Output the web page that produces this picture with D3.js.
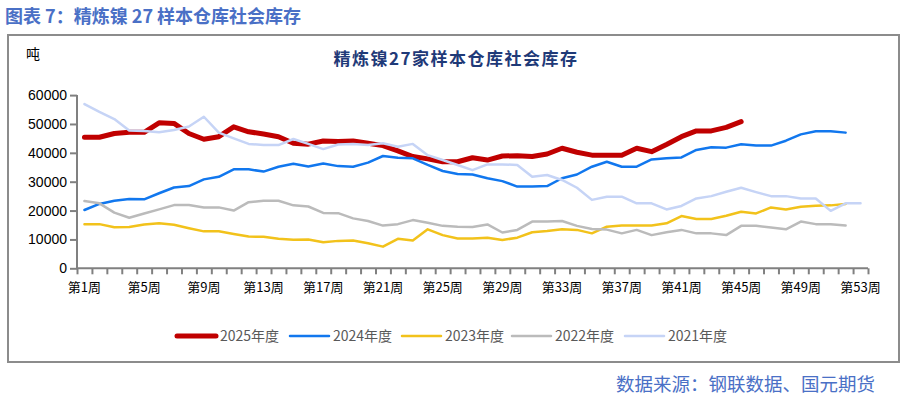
<!DOCTYPE html>
<html>
<head>
<meta charset="utf-8">
<script src="https://cdn.jsdelivr.net/npm/d3@7"></script>
<style>
  body { margin: 0; background: #fff; }
  svg { display: block; font-family: "Noto Sans CJK SC", "Noto Sans", sans-serif; }
</style>
</head>
<body>
<svg id="chart" width="909" height="396"></svg>
<script>
// weekly categories
const weeks = d3.range(1, 54).map(i => "第" + i + "周");
const labelWeeks = d3.range(1, 54, 4).map(i => "第" + i + "周");
const yTicks = [0, 10000, 20000, 30000, 40000, 50000, 60000];

// series values (tonnes)
const y2025 = [45400, 45400, 46700, 47100, 47100, 50400, 50200, 46700, 44700, 45600,
  49000, 47300, 46500, 45600, 43300, 43000, 44100, 43900, 44100, 43300,
  42500, 40700, 38700, 37900, 36900, 36900, 38300, 37500, 38900, 39000,
  38700, 39600, 41600, 40200, 39200, 39200, 39200, 41600, 40400, 42900,
  45600, 47600, 47600, 48800, 50800];
const y2024 = [20200, 22300, 23400, 24000, 23900, 26000, 28000, 28500, 30800, 31700,
  34300, 34300, 33500, 35200, 36200, 35300, 36300, 35400, 35200, 36600,
  38900, 38300, 38100, 35800, 33700, 32700, 32500, 31200, 30200, 28300,
  28300, 28500, 31200, 32500, 35200, 36900, 35200, 35200, 37700, 38100,
  38400, 41000, 41900, 41800, 43000, 42500, 42500, 44200, 46400, 47500,
  47500, 47000];
const y2023 = [15300, 15300, 14200, 14300, 15200, 15600, 15100, 13900, 12800, 12800,
  11900, 11000, 10900, 10200, 9900, 10000, 9000, 9500, 9600, 8700,
  7500, 10200, 9600, 13500, 11500, 10300, 10300, 10600, 9800, 10600,
  12500, 12900, 13500, 13300, 12100, 14400, 14800, 14800, 14800, 15600,
  18100, 17100, 17100, 18200, 19600, 19000, 21100, 20400, 21300, 21700,
  21800, 22300];
const y2022 = [23300, 22500, 19300, 17500, 19000, 20400, 21900, 21900, 21100, 21100,
  20000, 22900, 23400, 23400, 21800, 21400, 19200, 19100, 17300, 16400,
  14800, 15300, 16700, 15800, 14700, 14400, 14300, 15200, 12400, 13300,
  16200, 16200, 16400, 14700, 13600, 13400, 12100, 13300, 11500, 12500,
  13300, 12100, 12100, 11500, 14700, 14700, 14100, 13500, 16200, 15300,
  15300, 14800];
const y2021 = [56900, 54200, 51700, 47700, 47600, 47100, 47900, 49100, 52500, 47000,
  45000, 43100, 42700, 42700, 44800, 43100, 41300, 42900, 43100, 42700,
  43300, 42100, 43100, 39200, 37500, 35800, 34000, 36000, 36000, 35800,
  31700, 32300, 30600, 27900, 23700, 24800, 24800, 22500, 22500, 20400,
  21600, 24200, 25000, 26500, 27900, 26400, 25000, 25000, 24200, 24200,
  19900, 22500, 22500];

const seriesNames = ["2025年度", "2024年度", "2023年度", "2022年度", "2021年度"];
const seriesValues = [y2025, y2024, y2023, y2022, y2021];
const seriesColors = ["#C00000", "#1177EE", "#F2C21B", "#BBBBBB", "#C6D4F6"];
const seriesWidths = [5, 2.5, 2.5, 2.5, 2.5];

const svg = d3.select("#chart");

// header above the frame
svg.append("text")
  .attr("x", 5).attr("y", 23)
  .attr("fill", "#4A70C6")
  .attr("font-size", 18).attr("font-weight", "bold")
  .text("图表 7：精炼镍 27 样本仓库社会库存");

// chart frame
svg.append("rect")
  .attr("x", 8).attr("y", 35)
  .attr("width", 891).attr("height", 327)
  .attr("fill", "none").attr("stroke", "#8C8C8C").attr("stroke-width", 2);

// source line
svg.append("text")
  .attr("x", 875).attr("y", 391)
  .attr("text-anchor", "end")
  .attr("fill", "#4A70C6")
  .attr("font-size", 18.5)
  .text("数据来源：钢联数据、国元期货");

// chart title and unit
svg.append("text")
  .attr("x", 456).attr("y", 65)
  .attr("text-anchor", "middle")
  .attr("fill", "#1F3A78")
  .attr("font-size", 17).attr("font-weight", "bold")
  .attr("letter-spacing", 1.5)
  .text("精炼镍27家样本仓库社会库存");

svg.append("text")
  .attr("x", 26).attr("y", 59)
  .attr("fill", "#000")
  .attr("font-size", 14)
  .text("吨");

const x = d3.scaleBand().domain(weeks).range([77, 868]);
const xEdge = d3.scaleLinear().domain([0, weeks.length]).range([77, 868]);
const y = d3.scaleLinear().domain([0, 60000]).range([268.3, 95.1]);

// y axis
const yAxis = svg.append("g")
  .attr("transform", "translate(77,0)")
  .call(d3.axisLeft(y).tickValues(yTicks).tickSize(7).tickPadding(3).tickFormat(d => d));
yAxis.selectAll("path, line").attr("stroke", "#808080").attr("stroke-width", 2);
yAxis.selectAll("text").attr("font-family", "Arial, 'Liberation Sans', sans-serif")
  .attr("font-size", 14).attr("fill", "#000");
yAxis.select(".domain").attr("d", "M0," + y(0) + "V" + y(60000));

// x axis: ticks at category edges
const xTicks = svg.append("g")
  .attr("transform", "translate(0," + y(0) + ")")
  .call(d3.axisBottom(xEdge).tickValues(d3.range(0, weeks.length + 1)).tickSize(6).tickFormat(""));
xTicks.selectAll("path, line").attr("stroke", "#808080").attr("stroke-width", 2);
xTicks.select(".domain").attr("d", "M77,0H868");

// x labels, every fourth week
const xLabels = svg.append("g")
  .attr("transform", "translate(0," + y(0) + ")")
  .call(d3.axisBottom(x).tickValues(labelWeeks).tickSize(0).tickPadding(14));
xLabels.select(".domain").remove();
xLabels.selectAll("text")
  .attr("font-family", "'Liberation Sans Narrow', 'Noto Sans CJK SC', sans-serif")
  .attr("font-size", 13).attr("fill", "#000");

// lines
const line = d3.line()
  .x((d, i) => x(weeks[i]) + x.bandwidth() / 2)
  .y(d => y(d));

seriesValues.forEach((vals, k) => {
  svg.append("path")
    .datum(vals)
    .attr("fill", "none")
    .attr("stroke", seriesColors[k])
    .attr("stroke-width", seriesWidths[k])
    .attr("stroke-linejoin", "round")
    .attr("stroke-linecap", "round")
    .attr("d", line);
});

// legend
const legendX = [177, 290, 402, 512, 625];
const legend = svg.append("g").attr("transform", "translate(0,336)");
seriesNames.forEach((name, k) => {
  legend.append("line")
    .attr("x1", legendX[k]).attr("x2", legendX[k] + 39)
    .attr("stroke", seriesColors[k])
    .attr("stroke-width", seriesWidths[k])
    .attr("stroke-linecap", "round");
  legend.append("text")
    .attr("x", legendX[k] + 43).attr("y", 5)
    .attr("fill", "#595959")
    .attr("font-size", 14)
    .text(name);
});
</script>
</body>
</html>
